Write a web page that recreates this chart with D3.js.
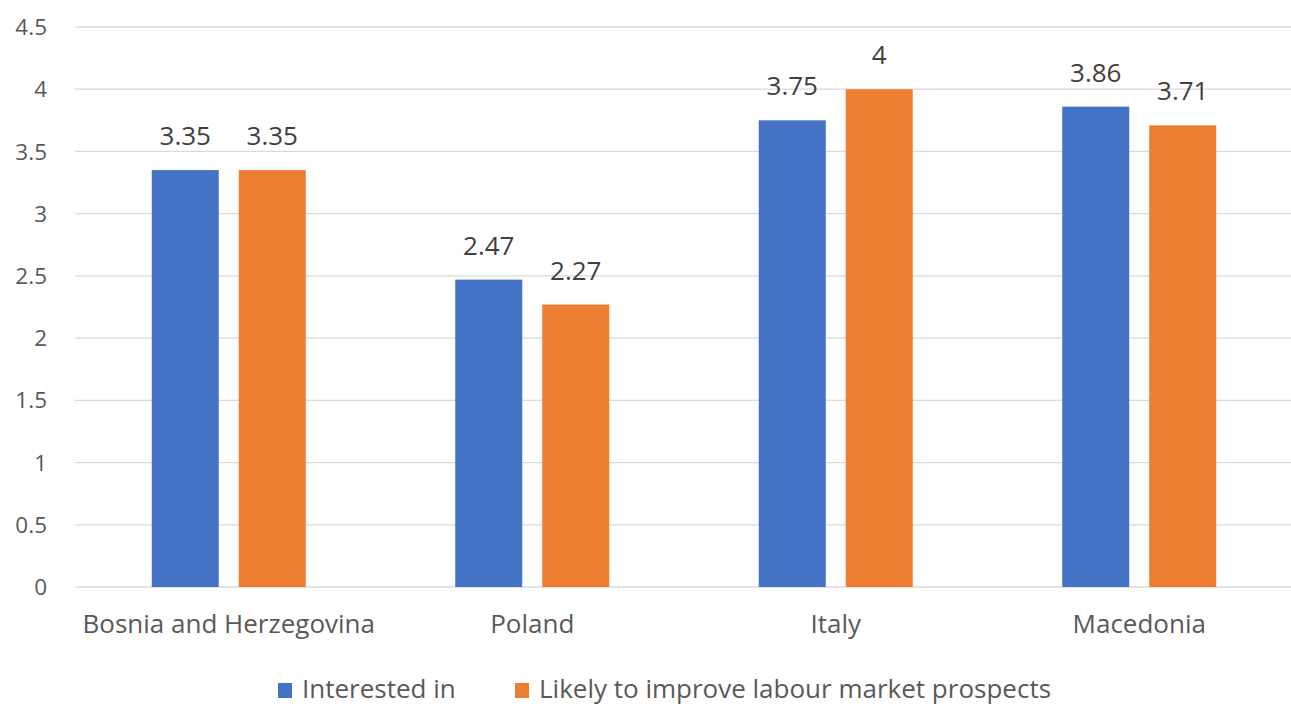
<!DOCTYPE html>
<html><head><meta charset="utf-8">
<script src="https://cdn.jsdelivr.net/npm/d3@7"></script>
<style>body{margin:0;background:#fff;} text{font-family:"Open Sans","Noto Sans",sans-serif;}</style>
</head><body><svg id="c" width="1291" height="706"></svg>
<script>
const categories = ["Bosnia and Herzegovina","Poland","Italy","Macedonia"];
const seriesNames = ["Interested in","Likely to improve labour market prospects"];
const interested = [3.35,2.47,3.75,3.86];
const likely = [3.35,2.27,4,3.71];
const yTicks = [0,0.5,1,1.5,2,2.5,3,3.5,4,4.5];
const colors = ["#4472c4","#ed7d31"];

(function(){
const svg = d3.select("#c");
const mL=77, mR=1291, mT=27, mB=587;
const x = d3.scaleBand().domain(categories).range([mL,mR]);
const y = d3.scaleLinear().domain([0,4.5]).range([mB,mT]);
const x1 = d3.scaleBand().domain([0,1]).range([x.bandwidth()/2-77,x.bandwidth()/2+77]).paddingInner(0.23);

svg.append("g").selectAll("line").data(yTicks).join("line")
  .attr("x1",75).attr("x2",mR).attr("y1",d=>y(d)).attr("y2",d=>y(d))
  .attr("stroke","#d9d9d9").attr("stroke-width",1.3);
svg.append("g").selectAll("text").data(yTicks).join("text")
  .attr("x",47).attr("y",d=>y(d)).attr("dy","0.36em").attr("text-anchor","end")
  .attr("fill","#595959").attr("font-size",22.5).text(d=>d);

const series=[interested,likely];
categories.forEach((c,i)=>{
  const g=svg.append("g").attr("transform",`translate(${x(c)},0)`);
  series.forEach((s,j)=>{
    g.append("rect").attr("x",x1(j)).attr("width",x1.bandwidth())
      .attr("y",y(s[i])).attr("height",y(0)-y(s[i])).attr("fill",colors[j]);
    g.append("text").attr("x",x1(j)+x1.bandwidth()/2).attr("y",y(s[i])-25)
      .attr("text-anchor","middle").attr("fill","#404040").attr("font-size",26).text(s[i]);
  });
  svg.append("text").attr("x",x(c)+x.bandwidth()/2).attr("y",633).attr("text-anchor","middle")
    .attr("fill","#595959").attr("font-size",26).text(c);
});

const leg=[{x:278,t:seriesNames[0]},{x:515,t:seriesNames[1]}];
leg.forEach((l,j)=>{
  svg.append("rect").attr("x",l.x).attr("y",683).attr("width",14).attr("height",15).attr("fill",colors[j]);
  svg.append("text").attr("x",l.x+24).attr("y",698).attr("fill","#595959").attr("font-size",26).text(l.t);
});
})();
</script></body></html>
